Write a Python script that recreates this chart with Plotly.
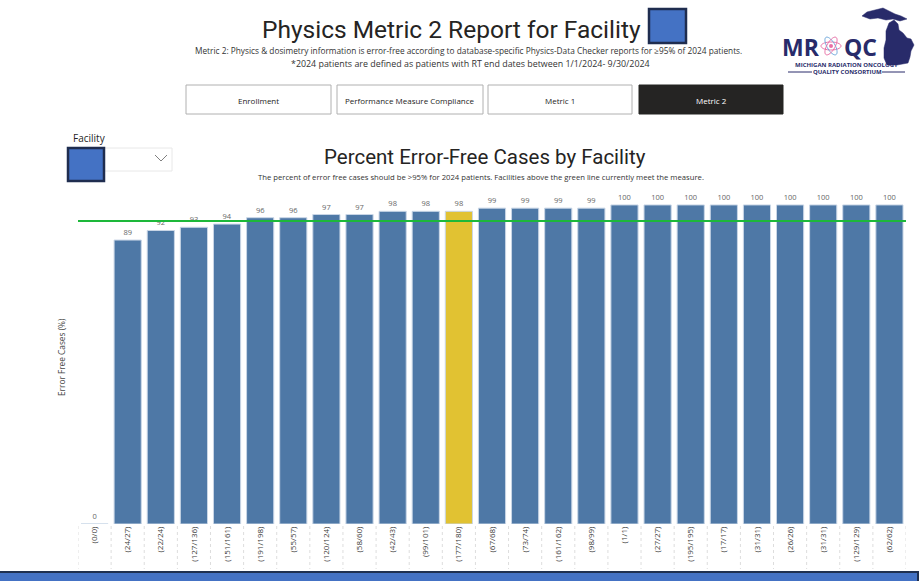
import plotly.graph_objects as go
import numpy as np

W, H = 922, 581

facilities = ["(0/0)", "(24/27)", "(22/24)", "(127/136)", "(151/161)", "(191/198)", "(55/57)",
              "(120/124)", "(58/60)", "(42/43)", "(99/101)", "(177/180)", "(67/68)", "(73/74)",
              "(161/162)", "(98/99)", "(1/1)", "(27/27)", "(195/195)", "(17/17)", "(31/31)",
              "(26/26)", "(31/31)", "(129/129)", "(62/62)"]
pct_error_free = [0, 89, 92, 93, 94, 96, 96, 97, 97, 98, 98, 98, 99, 99, 99, 99,
                  100, 100, 100, 100, 100, 100, 100, 100, 100]
highlight_index = 11
target = 95
buttons = ["Enrollment", "Performance Measure Compliance", "Metric 1", "Metric 2"]

BLUE = "#4E78A6"
YELLOW = "#E1C232"

def X(px):
    return px / W

def Y(py):
    return 1 - py / H

xs = list(range(len(facilities)))
colors = [YELLOW if i == highlight_index else BLUE for i in xs]

fig = go.Figure()
fig.add_trace(go.Bar(
    x=xs, y=pct_error_free,
    marker=dict(color=colors, line=dict(color="#C9D6E6", width=1)),
    text=[str(v) for v in pct_error_free], textposition="outside",
    textfont=dict(size=7.5, color="#666666", family="Open Sans"),
    cliponaxis=False, hoverinfo="x+y",
))

shapes = []
annotations = []

def ann(text, px, py, size, color="#252423", family="Open Sans", xanchor="center", **kw):
    annotations.append(dict(text=text, x=X(px), y=Y(py), xref="paper", yref="paper",
                            xanchor=xanchor, yanchor="middle", showarrow=False,
                            font=dict(size=size, color=color, family=family), **kw))

# target line
shapes.append(dict(type="line", xref="x", yref="y", x0=-0.85, x1=len(xs) - 0.3,
                   y0=target, y1=target, line=dict(color="#1DB83A", width=2)))

# dotted category separators below axis
for i in range(len(xs) + 1):
    shapes.append(dict(type="line", xref="x", yref="paper", x0=i - 0.5, x1=i - 0.5,
                       y0=Y(526), y1=Y(569), line=dict(color="#DDDDDD", width=1, dash="dot")))

# bottom bar
shapes.append(dict(type="rect", xref="paper", yref="paper", x0=X(-2), x1=X(918),
                   y0=Y(572), y1=Y(590), fillcolor="#4472C4",
                   line=dict(color="#1F3050", width=2)))

# title redaction square
shapes.append(dict(type="rect", xref="paper", yref="paper", x0=X(649), x1=X(686),
                   y0=Y(9), y1=Y(43), fillcolor="#4472C4", line=dict(color="#1F2D4F", width=2.5)))

# buttons
bx = [(186, 331), (337, 483), (488, 632), (639, 783)]
for (x0, x1), lab in zip(bx, buttons):
    dark = lab == "Metric 2"
    shapes.append(dict(type="rect", xref="paper", yref="paper", x0=X(x0), x1=X(x1),
                       y0=Y(85), y1=Y(114), fillcolor="#252423" if dark else "white",
                       line=dict(color="#252423" if dark else "#B0B0B0", width=1)))
    ann(lab, (x0 + x1) / 2, 100, 8, color="white" if dark else "#252423")

# facility dropdown
shapes.append(dict(type="rect", xref="paper", yref="paper", x0=X(104), x1=X(172),
                   y0=Y(148), y1=Y(171), fillcolor="white", line=dict(color="#E8E8E8", width=1)))
shapes.append(dict(type="path", xref="paper", yref="paper",
                   path=f"M {X(155)} {Y(155)} L {X(161)} {Y(161)} L {X(167)} {Y(155)}",
                   line=dict(color="#808080", width=1)))
shapes.append(dict(type="rect", xref="paper", yref="paper", x0=X(68), x1=X(104),
                   y0=Y(148), y1=Y(181), fillcolor="#4472C4", line=dict(color="#1F2D4F", width=2.5)))
ann("Facility", 71, 138, 10, xanchor="left")

# logo: Michigan silhouette
def poly(pts):
    return "M " + " L ".join(f"{X(a):.5f} {Y(b):.5f}" for a, b in pts) + " Z"

NAVY = "#282B6A"
up = [(862, 16), (867, 12), (875, 10), (883, 8), (889, 11), (895, 14), (901, 16), (907, 19),
      (900, 21), (893, 19), (886, 20), (878, 18), (870, 19)]
lp = [(889, 23), (894, 20), (898, 24), (899, 30), (903, 33), (907, 38), (911, 39), (914, 45),
      (911, 51), (910, 57), (908, 63), (897, 65), (887, 65), (884, 58), (884, 48), (886, 40),
      (886, 31)]
for pts in (up, lp):
    shapes.append(dict(type="path", xref="paper", yref="paper", path=poly(pts),
                       fillcolor=NAVY, line=dict(color=NAVY, width=0.5)))
# atom
cx, cy = 831, 46
for ang, col in [(0, "#E86FA6"), (60, "#6FA8DC"), (120, "#E86FA6")]:
    t = np.linspace(0, 2 * np.pi, 40)
    a, b = 10, 4
    px_ = cx + a * np.cos(t) * np.cos(np.radians(ang)) - b * np.sin(t) * np.sin(np.radians(ang))
    py_ = cy + a * np.cos(t) * np.sin(np.radians(ang)) + b * np.sin(t) * np.cos(np.radians(ang))
    shapes.append(dict(type="path", xref="paper", yref="paper",
                       path=poly(list(zip(px_, py_))), line=dict(color=col, width=1)))
shapes.append(dict(type="circle", xref="paper", yref="paper", x0=X(829), x1=X(833),
                   y0=Y(44), y1=Y(48), fillcolor="#E86FA6", line=dict(width=0)))
ann("<b>MR</b>", 801, 47, 23, color=NAVY)
ann("<b>QC</b>", 860, 47, 23, color=NAVY)
ann("<b>MICHIGAN RADIATION ONCOLOGY</b>", 846, 65, 6, color=NAVY)
ann("<b>QUALITY CONSORTIUM</b>", 847, 72, 6, color=NAVY)
for x0, x1 in [(788, 812), (882, 905)]:
    shapes.append(dict(type="line", xref="paper", yref="paper", x0=X(x0), x1=X(x1),
                       y0=Y(72), y1=Y(72), line=dict(color=NAVY, width=1)))

# titles
ann("Physics Metric 2 Report for Facility", 451, 30, 24.5, family="Roboto")
ann("Metric 2: Physics &amp; dosimetry information is error-free according to database-specific Physics-Data Checker reports for ≥95% of 2024 patients.",
    468, 50, 8.3, color="#333333")
ann("*2024 patients are defined as patients with RT end dates between 1/1/2024- 9/30/2024",
    470, 64, 8.9, color="#333333")
ann("Percent Error-Free Cases by Facility", 485, 157, 20.5, family="Roboto")
ann("The percent of error free cases should be >95% for 2024 patients. Facilities above the green line currently meet the measure.",
    481, 177, 7.7, color="#333333")
ann("Error Free Cases (%)", 61, 357, 8.3, color="#444444", textangle=-90)

fig.update_layout(
    width=W, height=H, margin=dict(l=0, r=0, t=0, b=0, autoexpand=False),
    paper_bgcolor="white", plot_bgcolor="white", showlegend=False, bargap=0.18,
    shapes=shapes, annotations=annotations,
    xaxis=dict(domain=[X(78), X(906)], range=[-0.5, len(xs) - 0.5], tickmode="array",
               tickvals=xs, ticktext=facilities, tickangle=-90, showgrid=False, zeroline=False,
               showline=False, ticks="", tickfont=dict(size=8, color="#3B3A39", family="Open Sans")),
    yaxis=dict(domain=[Y(524), Y(189)], range=[0, 105], showticklabels=False, showgrid=False,
               zeroline=False, showline=False),
)

fig.write_html("out.html", config={"displayModeBar": False},
               post_script="document.body.style.margin='0';document.body.style.overflow='hidden';")
